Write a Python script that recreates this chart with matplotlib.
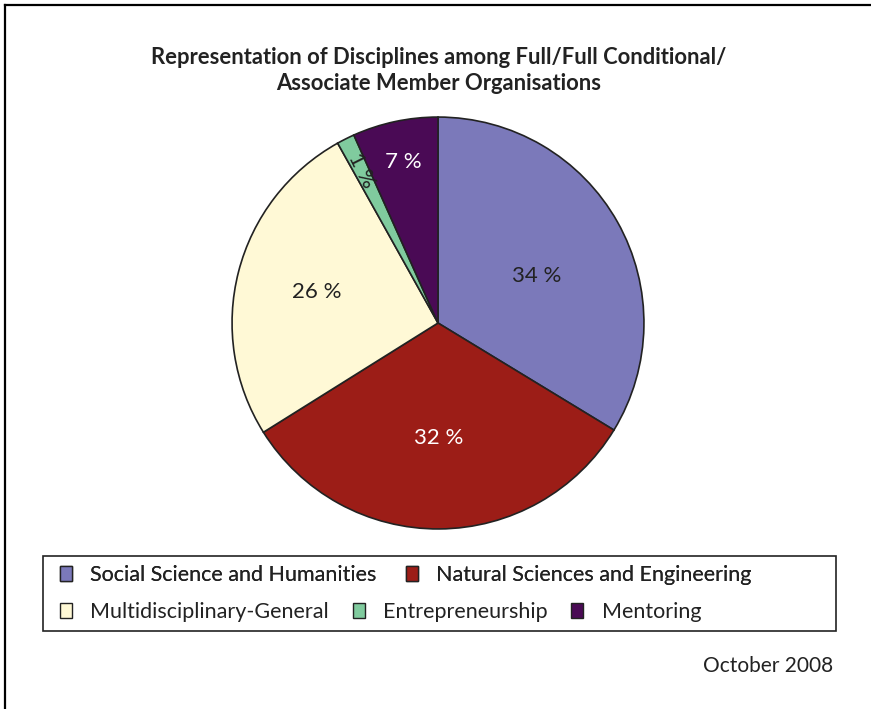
import matplotlib
matplotlib.use("Agg")
import matplotlib.pyplot as plt
from matplotlib.patches import Patch, Rectangle
from matplotlib.lines import Line2D
import numpy as np

categories = ["Social Science and Humanities", "Natural Sciences and Engineering",
              "Multidisciplinary-General", "Entrepreneurship", "Mentoring"]
values = [33.7, 32.4, 25.8, 1.4, 6.7]
colors = ["#7B79BA", "#9C1D17", "#FFF9D6", "#80CB9E", "#4A0A55"]
label_colors = ["#222222", "white", "#222222", "#222222", "white"]
label_dist = [0.53, 0.56, 0.61, 0.83, 0.80]
label_ang_shift = [-4, 0, 0, 0, 0]

plt.rcParams['font.family'] = ['Lato', 'DejaVu Sans']

W, H = 871, 709
fig = plt.figure(figsize=(W/100, H/100), dpi=100)

# frame lines (top and left)
fig.add_artist(Line2D([5/W, 1], [1-5/H, 1-5/H], color='black', lw=1.6, transform=fig.transFigure))
fig.add_artist(Line2D([5/W, 5/W], [0, 1-5/H], color='black', lw=1.6, transform=fig.transFigure))

fig.text(439/W, 1-58/H, "Representation of Disciplines among Full/Full Conditional/",
         ha='center', va='center', fontsize=15.8, fontweight='bold', color='#222222')
fig.text(439/W, 1-84/H, "Associate Member Organisations",
         ha='center', va='center', fontsize=15.8, fontweight='bold', color='#222222')

cx, cy, r = 438, 323, 208
ax = fig.add_axes([(cx-r)/W, (H-cy-r)/H, 2*r/W, 2*r/H])
wedges, texts, autotexts = ax.pie(values, colors=colors, startangle=90, counterclock=False,
                                  autopct=lambda p: f"{p:.0f} %", pctdistance=0.55,
                                  wedgeprops=dict(edgecolor='#222222', linewidth=1.2),
                                  textprops=dict(fontsize=16))
for i, (w, t) in enumerate(zip(wedges, autotexts)):
    mid = (w.theta1 + w.theta2) / 2
    ang = np.deg2rad(mid + label_ang_shift[i])
    t.set_position((label_dist[i]*np.cos(ang), label_dist[i]*np.sin(ang)))
    t.set_color(label_colors[i])
    t.set_ha('center'); t.set_va('center')
    if values[i] < 3:
        t.set_rotation(mid + 180)
        t.set_rotation_mode('anchor')
ax.set_xlim(-1.01, 1.01); ax.set_ylim(-1.01, 1.01)

# legend box
fig.add_artist(Rectangle((43/W, 1-631/H), (836-43)/W, (631-556)/H, transform=fig.transFigure,
                         fill=False, edgecolor='#222222', lw=1.2))
handles = [Patch(facecolor=c, edgecolor='#222222', linewidth=1.0) for c in colors]
common = dict(frameon=False, fontsize=15.5, handlelength=0.56, handleheight=0.75,
              handletextpad=0.85, borderpad=0, borderaxespad=0,
              labelcolor='#222222')
leg1 = fig.legend(handles[:2], categories[:2], ncol=2, loc='center left',
                  bbox_to_anchor=(60/W, 1-575/H), columnspacing=1.35, **common)
fig.add_artist(leg1)
leg2 = fig.legend(handles[2:], categories[2:], ncol=3, loc='center left',
                  bbox_to_anchor=(60/W, 1-612/H), columnspacing=1.1, **common)

fig.text(833/W, 1-666/H, "October 2008", ha='right', va='center', fontsize=15, color='#222222')

fig.savefig("out.png", dpi=100)
